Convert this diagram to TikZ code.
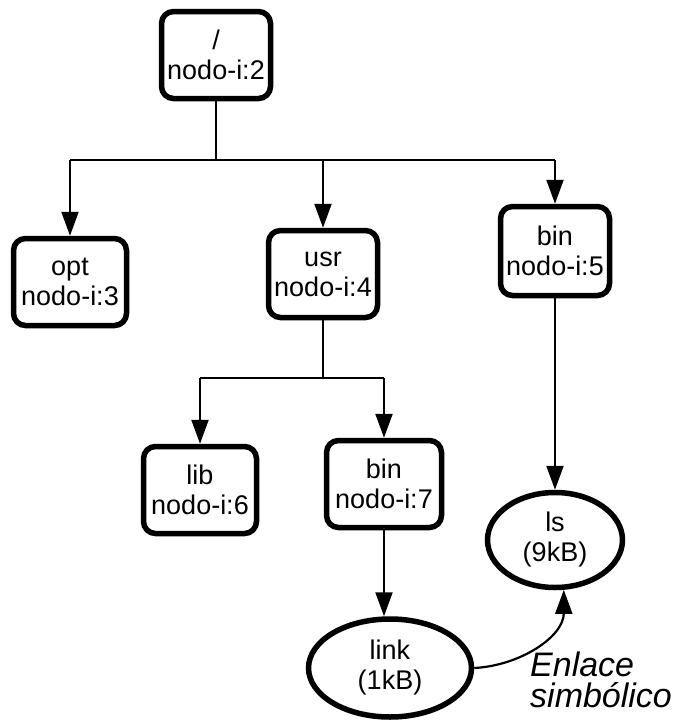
\documentclass[tikz,border=0pt]{standalone}
\usepackage{fontspec}
\setmainfont{Liberation Sans}
\usetikzlibrary{arrows.meta,shapes.geometric}
\begin{document}
\begin{tikzpicture}[x=1pt,y=-1pt,
  inode/.style={draw, line width=5.5pt, rounded corners=12pt,
    minimum width=109pt, minimum height=87pt, align=center,
    inner sep=0pt, font=\fontsize{27}{30}\selectfont},
  fnode/.style={draw, ellipse, line width=5.5pt, align=center,
    inner sep=0pt, font=\fontsize{27}{30}\selectfont},
  wire/.style={line width=2.2pt},
  link/.style={wire, -{Triangle[length=24pt,width=17pt]}}
]
\useasboundingbox (0,0) rectangle (679,724);

% directory i-nodes
\node[inode] (root) at (216,55)  {/\\nodo-i:2};
\node[inode, minimum width=113pt] (opt) at (70,282)  {opt\\nodo-i:3};
\node[inode] (usr) at (323,274) {usr\\nodo-i:4};
\node[inode, minimum height=89pt] (binA) at (555,251) {bin\\nodo-i:5};
\node[inode, minimum width=113pt] (lib) at (200,490) {lib\\nodo-i:6};
\node[inode, minimum width=115pt] (binB) at (384,484) {bin\\nodo-i:7};

% files
\node[fnode, minimum width=135pt, minimum height=95pt] (ls) at (555,540) {ls\\(9kB)};
\node[fnode, minimum width=163pt, minimum height=98pt] (lnk) at (390,668) {link\\(1kB)};

% tree below /
\coordinate (busA) at (216,160);
\draw[wire] (root.south) -- (busA);
\draw[wire] (opt.north |- busA) -- (binA.north |- busA);
\draw[link] (opt.north |- busA) -- (opt.north);
\draw[link] (usr.north |- busA) -- (usr.north);
\draw[link] (binA.north |- busA) -- (binA.north);

% tree below usr
\coordinate (busB) at (323,378);
\draw[wire] (usr.south) -- (busB);
\draw[wire] (lib.north |- busB) -- (binB.north |- busB);
\draw[link] (lib.north |- busB) -- (lib.north);
\draw[link] (binB.north |- busB) -- (binB.north);

% file contents
\draw[link] (binA.south) -- (ls.north);
\draw[link] (binB.south) -- (binB.south |- lnk.north);

% symbolic link
\draw[link] (lnk.east) to[out=3,in=-90] (ls.280);
\node[anchor=north west, align=left, inner sep=0pt,
  font=\fontsize{34}{31}\itshape] (lbl) at (530,652) {Enlace\\simbólico};
\end{tikzpicture}
\end{document}
